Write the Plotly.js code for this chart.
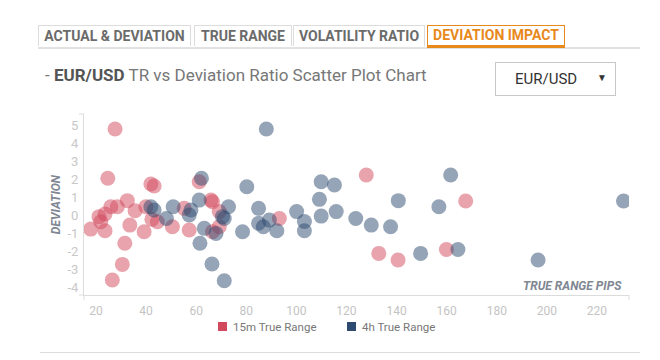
<!DOCTYPE html>
<html>
<head>
<meta charset="utf-8">
<script src="https://cdn.plot.ly/plotly-3.0.1.min.js"></script>
<style>
  html, body { margin: 0; padding: 0; background: #fff; width: 660px; height: 360px; overflow: hidden; font-family: Roboto, "Open Sans", sans-serif; }
  #chart { position: absolute; left: 0; top: 0; width: 660px; height: 360px; }
  .tab { position: absolute; top: 25px; height: 20px; line-height: 20px; box-sizing: content-box; border: 1px solid #dcdcdc; border-bottom: none; font-weight: bold; font-size: 14px; color: #6b6b6b; text-align: center; background: #fff; white-space: nowrap; }
  .tab.active { color: #e8891c; border-color: #e8891c; border-bottom: 3px solid #e8891c; height: 19px; line-height: 19px; }
  #tabline { position: absolute; left: 38px; top: 47px; width: 602px; height: 0; border-top: 2px solid #e2e2e2; }
  #title { position: absolute; left: 45px; top: 65px; font-size: 17px; color: #777; white-space: nowrap; }
  #title b { color: #555; }
  #dd { position: absolute; left: 495px; top: 62px; width: 119px; height: 32px; border: 1px solid #c8c8c8; box-sizing: content-box; font-size: 15px; color: #333; }
  #dd .v { position: absolute; left: 19px; top: 7px; }
  #dd .a { position: absolute; left: 101px; top: 9px; font-size: 10px; color: #333; }
  #bottomline { position: absolute; left: 40px; top: 352px; width: 600px; border-top: 1px solid #dcdcdc; }
  .lg { position: absolute; top: 320px; font-size: 11.5px; color: #777; white-space: nowrap; line-height: 14px; }
  .lg i { position: absolute; left: -15px; top: 2px; width: 9px; height: 9px; }
</style>
</head>
<body>
<div id="chart"></div>
<div id="tabline"></div>
<div class="tab" style="left:38px;width:151px;">ACTUAL &amp; DEVIATION</div>
<div class="tab" style="left:194px;width:96px;">TRUE RANGE</div>
<div class="tab" style="left:293px;width:130px;">VOLATILITY RATIO</div>
<div class="tab active" style="left:427px;width:136px;">DEVIATION IMPACT</div>
<div id="title">- <b>EUR/USD</b> TR vs Deviation Ratio Scatter Plot Chart</div>
<div id="dd"><span class="v">EUR/USD</span><span class="a">&#9660;</span></div>
<div id="legend"></div>
<div id="bottomline"></div>
<script>
// 15m True Range series: true range (pips) and deviation
var tr15m = [27.6, 24.7, 41.9, 43.2, 25.9, 28.5, 32.5, 35.6, 21.2, 21.9, 23.6, 17.9, 23.6, 33.5, 31.5, 30.5, 26.5, 39.2, 39.9, 42.3, 44.5, 50.5, 57.2, 55.2, 61.2, 65.9, 66.5, 69.2, 69.2, 66.5, 93.2, 127.9, 132.9, 140.6, 159.9, 167.6];
var dev15m = [4.78, 2.04, 1.72, 1.61, 0.46, 0.46, 0.80, 0.24, -0.09, -0.37, 0.06, -0.78, -0.87, -0.56, -1.57, -2.74, -3.61, -0.93, 0.46, -0.24, -0.37, -0.65, -0.83, 0.37, 1.85, 0.83, 0.74, 0.19, -0.65, -0.93, -0.19, 2.22, -2.13, -2.50, -1.91, 0.78];
// 4h True Range series
var tr4h = [41.9, 43.2, 48.1, 50.8, 57.9, 57.2, 61.2, 62.1, 63.2, 61.5, 66.3, 71.2, 72.9, 70.5, 71.2, 67.9, 78.5, 80.2, 84.9, 84.9, 86.8, 89.2, 92.2, 88.0, 100.1, 103.2, 103.2, 109.9, 115.2, 109.2, 109.9, 115.9, 123.7, 129.9, 137.6, 140.7, 149.6, 161.6, 156.9, 164.5, 196.5, 230.6];
var dev4h = [0.46, 0.28, -0.19, 0.46, 0.28, 0.00, 0.83, 2.04, -0.74, -1.57, -2.72, -3.65, 0.46, -0.09, -0.19, -1.02, -0.93, 1.57, 0.37, -0.46, -0.65, -0.28, -0.87, 4.78, 0.19, -0.36, -0.87, 1.85, 1.67, 0.87, -0.06, 0.19, -0.19, -0.56, -0.65, 0.80, -2.13, 2.22, 0.46, -1.91, -2.50, 0.78];
var seriesNames = ["15m True Range", "4h True Range"];
var xTicks = [20, 40, 60, 80, 100, 120, 140, 160, 180, 200, 220];
var yTicks = [-4, -3, -2, -1, 0, 1, 2, 3, 4, 5];
var xTitle = "TRUE RANGE PIPS";
var yTitle = "DEVIATION";

var RED = "#d2485c", BLUE = "#2e4a70";
var colors = [RED, BLUE];

// HTML legend (square swatches as in the reference)
var legendLeft = [233, 362];
var lg = document.getElementById("legend");
seriesNames.forEach(function (n, i) {
  var d = document.createElement("div");
  d.className = "lg";
  d.style.left = legendLeft[i] + "px";
  var sw = document.createElement("i");
  sw.style.background = colors[i];
  d.appendChild(sw);
  d.appendChild(document.createTextNode(n));
  lg.appendChild(d);
});

var traces = [
  {x: tr15m, y: dev15m, type: "scatter", mode: "markers", name: seriesNames[0],
   marker: {size: 15, color: RED, opacity: 0.5, line: {width: 0}}},
  {x: tr4h, y: dev4h, type: "scatter", mode: "markers", name: seriesNames[1],
   marker: {size: 15, color: BLUE, opacity: 0.5, line: {width: 0}}}
];

var axisCol = "#dcdcdc";
var layout = {
  width: 660, height: 360,
  margin: {l: 84, r: 31, t: 114, b: 65},
  paper_bgcolor: "rgba(0,0,0,0)", plot_bgcolor: "rgba(0,0,0,0)",
  font: {family: "Roboto, sans-serif", size: 12, color: "#777"},
  showlegend: false,
  xaxis: {range: [15.2, 232.8], tickvals: xTicks, ticktext: xTicks.map(String), showgrid: false, zeroline: false,
          showline: true, linecolor: axisCol, linewidth: 1, ticks: "", ticklabelstandoff: 5,
          tickfont: {family: "Roboto, sans-serif", size: 12, color: "#c4c4c4"}, fixedrange: true},
  yaxis: {range: [-4.44, 5.61], tickvals: yTicks, ticktext: yTicks.map(String), showgrid: false, zeroline: false,
          showline: true, linecolor: axisCol, linewidth: 1, ticks: "", ticklabelstandoff: 2,
          tickfont: {family: "Roboto, sans-serif", size: 13, color: "#c8c8c8"}, fixedrange: true},
  annotations: [
    {text: "<b><i>" + xTitle + "</i></b>", xref: "paper", yref: "paper", x: 0.99, y: 0.05, xanchor: "right", yanchor: "middle",
     showarrow: false, font: {family: "Roboto, sans-serif", size: 12, color: "#7f8793"}},
    {text: "<b><i>" + yTitle + "</i></b>", xref: "paper", yref: "paper", x: -0.052, y: 0.5, xanchor: "center", yanchor: "middle",
     textangle: -90, showarrow: false, font: {family: "Roboto, sans-serif", size: 12, color: "#7f8793"}}
  ],
  shapes: [
    {type: "line", xref: "paper", yref: "paper", xsizemode: "pixel", xanchor: 0, x0: -5, x1: 0, y0: 1, y1: 1, line: {color: axisCol, width: 1}},
    {type: "line", xref: "paper", yref: "paper", xsizemode: "pixel", xanchor: 0, x0: -5, x1: 0, y0: 0, y1: 0, line: {color: axisCol, width: 1}},
    {type: "line", xref: "paper", yref: "paper", ysizemode: "pixel", yanchor: 0, x0: 0, x1: 0, y0: -5, y1: 0, line: {color: axisCol, width: 1}},
    {type: "line", xref: "paper", yref: "paper", ysizemode: "pixel", yanchor: 0, x0: 1, x1: 1, y0: -5, y1: 0, line: {color: axisCol, width: 1}}
  ]
};

Plotly.newPlot("chart", traces, layout, {displayModeBar: false, staticPlot: true});
</script>
</body>
</html>
